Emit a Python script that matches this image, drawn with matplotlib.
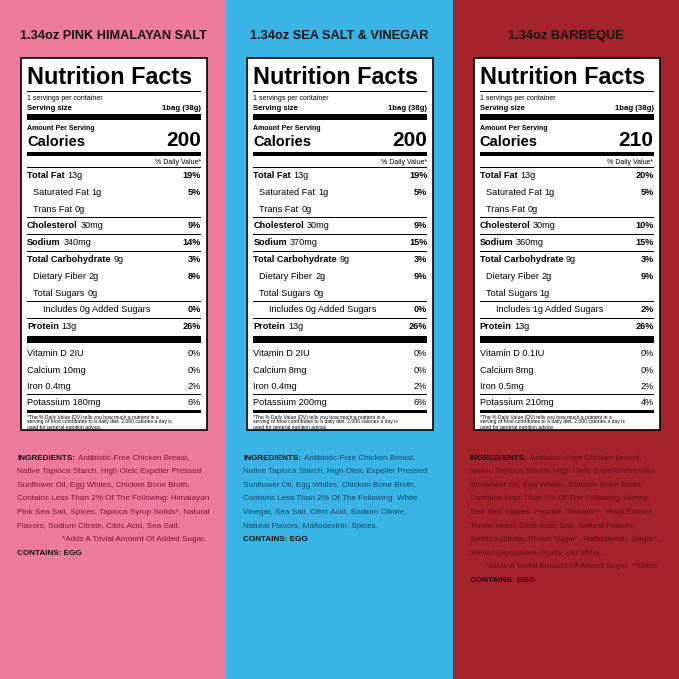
import matplotlib
matplotlib.use("Agg")
import matplotlib.pyplot as plt
from matplotlib.patches import Rectangle

titles = ["1.34oz PINK HIMALAYAN SALT", "1.34oz SEA SALT & VINEGAR", "1.34oz BARBEQUE"]
bg = ["#EE7A9A", "#3AB4E4", "#A5232B"]
ingr_col = ["#7A1436", "#0E4A6A", "#5E0F14"]
calories = ["200", "200", "210"]
fat = [("13g", "19%"), ("13g", "19%"), ("13g", "20%")]
satfat = [("1g", "5%")] * 3
chol = [("30mg", "9%"), ("30mg", "9%"), ("30mg", "10%")]
sodium = [("340mg", "14%"), ("370mg", "15%"), ("360mg", "15%")]
carb = [("9g", "3%")] * 3
fiber = [("2g", "8%"), ("2g", "9%"), ("2g", "9%")]
sugars = ["0g", "0g", "1g"]
added = [("0g", "0%"), ("0g", "0%"), ("1g", "2%")]
protein = [("13g", "26%")] * 3
vitd = [("2IU", "0%"), ("2IU", "0%"), ("0.1IU", "0%")]
calcium = [("10mg", "0%"), ("8mg", "0%"), ("8mg", "0%")]
iron = [("0.4mg", "2%"), ("0.4mg", "2%"), ("0.5mg", "2%")]
potassium = [("180mg", "6%"), ("200mg", "6%"), ("210mg", "4%")]
ingredients = [
    ["Antibiotic-Free Chicken Breast,", "Native Tapioca Starch, High Oleic Expeller Pressed",
     "Sunflower Oil, Egg Whites, Chicken Bone Broth,",
     "Contains Less Than 2% Of The Following: Himalayan",
     "Pink Sea Salt, Spices, Tapioca Syrup Solids*, Natural",
     "Flavors, Sodium Citrate, Citric Acid, Sea Salt.",
     "                    *Adds A Trivial Amount Of Added Sugar."],
    ["Antibiotic-Free Chicken Breast,", "Native Tapioca Starch, High Oleic Expeller Pressed",
     "Sunflower Oil, Egg Whites, Chicken Bone Broth,",
     "Contains Less Than 2% Of The Following: White",
     "Vinegar, Sea Salt, Citric Acid, Sodium Citrate,",
     "Natural Flavors, Maltodextrin, Spices."],
    ["Antibiotic-Free Chicken Breast,", "Native Tapioca Starch, High Oleic Expeller Pressed",
     "Sunflower Oil, Egg Whites, Chicken Bone Broth,",
     "Contains Less Than 2% Of The Following: Honey,",
     "Sea Salt, Spices, Paprika, Tomato**, Yeast Extract,",
     "Torula Yeast, Citric Acid, Salt, Natural Flavors,",
     "Sodium Citrate, Brown Sugar*, Maltodextrin, Sugar*,",
     "Steviol Glycosides (Purity \u2265 to 95%).",
     "       *Adds A Trivial Amount Of Added Sugar. **Dried."],
]

FN = ["Liberation Sans", "DejaVu Sans"]
FL = ["Liberation Sans", "DejaVu Sans"]

fig = plt.figure(figsize=(6.79, 6.79), dpi=100)
ax = fig.add_axes([0, 0, 1, 1])
ax.set_xlim(0, 679); ax.set_ylim(679, 0); ax.axis("off")

def T(x, y, s, size, bold=False, ha="left", fam=FL, color="black"):
    return ax.text(x, y, s, fontsize=size, fontweight="bold" if bold else "normal",
                   ha=ha, va="center", family=fam, color=color)

def bar(x0, x1, y, h):
    ax.add_patch(Rectangle((x0, y), x1 - x0, h, color="black", lw=0))

for i in range(3):
    ox = i * 226.3
    ax.add_patch(Rectangle((ox, 0), 226.4, 679, color=bg[i], lw=0))
    T(ox + 113, 36, titles[i], 9.2, True, "center", FN, "#111111")
    L, R = ox + 21, ox + 207
    ax.add_patch(Rectangle((L, 58), R - L, 372, facecolor="white", edgecolor="black", lw=1.2))
    l, r = L + 6, R - 6
    T(l, 77, "Nutrition Facts", 16.8, True, fam=FN)
    bar(l, r, 91, 1)
    T(l, 99, "1 servings per container", 5.0)
    T(l, 108, "Serving size", 5.6, True)
    T(r, 108, "1bag (38g)", 5.6, True, "right")
    bar(l, r, 114, 6)
    T(l, 128, "Amount Per Serving", 5.0, True)
    T(l, 142, "Calories", 10.5, True)
    T(r, 140, calories[i], 15, True, "right")
    bar(l, r, 152, 3.5)
    T(r, 162, "% Daily Value*", 5.0, False, "right")
    rows = [("Total Fat", fat[i], True, 0), ("Saturated Fat", satfat[i], False, 6),
            ("Trans Fat", ("0g", ""), False, 6), ("Cholesterol", chol[i], True, 0),
            ("Sodium", sodium[i], True, 0), ("Total Carbohydrate", carb[i], True, 0),
            ("Dietary Fiber", fiber[i], False, 6), ("Total Sugars", (sugars[i], ""), False, 6),
            ("Includes " + added[i][0] + " Added Sugars", ("", added[i][1]), False, 16),
            ("Protein", protein[i], True, 0)]
    y = 175.5
    for k, (name, (amt, dv), b, ind) in enumerate(rows):
        bar(l, r, y - 8.5, 0.6)
        t = T(l + ind, y, name, 6.6, b)
        if amt:
            ax.annotate(amt, xy=(1, 0.5), xycoords=t, xytext=(2, 0), textcoords="offset points",
                        fontsize=6.6, va="center", family=FL)
        if dv:
            T(r, y, dv, 6.6, True, "right")
        y += 16.8
    bar(l, r, 336, 7)
    y = 354
    for name, (amt, dv) in zip(["Vitamin D", "Calcium", "Iron", "Potassium"],
                               [vitd[i], calcium[i], iron[i], potassium[i]]):
        T(l, y, name + " " + amt, 6.6)
        T(r, y, dv, 6.6, False, "right")
        if name != "Potassium":
            bar(l, r, y + 7.5, 0.6)
        y += 16.3
    bar(l, r, 410, 3)
    T(l, 417, "*The % Daily Value (DV) tells you how much a nutrient in a", 3.6)
    T(l, 422, "serving of food contributes to a daily diet. 2,000 calories a day is", 3.6)
    T(l, 427, "used for general nutrition advice.", 3.6)
    x0 = ox + 17
    y = 458
    for j, line in enumerate(ingredients[i]):
        if j == 0:
            t = T(x0, y, "INGREDIENTS:", 5.9, True, fam=FN, color="#111111")
            ax.annotate(line, xy=(1, 0.5), xycoords=t, xytext=(2, 0), textcoords="offset points",
                        fontsize=5.9, family=FN, va="center", color=ingr_col[i])
        else:
            T(x0, y, line, 5.9, False, fam=FN, color=ingr_col[i])
        y += 13.6
    T(x0, y, "CONTAINS: EGG", 5.9, True, fam=FN, color="#111111")

fig.savefig("out.png", dpi=100)
